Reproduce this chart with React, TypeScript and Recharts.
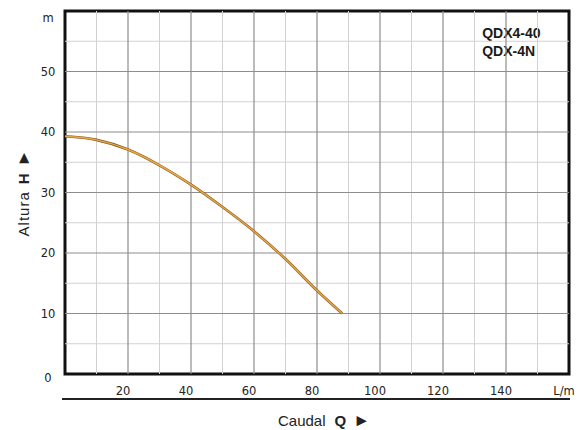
import React from 'react';
import { LineChart, Line, XAxis, YAxis, ReferenceLine, ReferenceArea, Label } from 'recharts';

// Pump curve QDX4-40 / QDX-4N (flow L/min vs head m)
const flowQ = [0, 10, 20, 30, 40, 50, 60, 70, 80, 88];
const headH = [39.3, 38.7, 37.1, 34.5, 31.3, 27.6, 23.6, 19.0, 13.8, 10.0];

const xTicks = [20, 40, 60, 80, 100, 120, 140, 160];
const xTickLabels = ['20', '40', '60', '80', '100', '120', '140', 'L/m'];
const yTicks = [0, 10, 20, 30, 40, 50, 60];
const yTickLabels = ['0', '10', '20', '30', '40', '50', 'm'];

const xMajor = [20, 40, 60, 80, 100, 120, 140];
const xMinor = [10, 30, 50, 70, 90, 110, 130, 150];
const yMajor = [10, 20, 30, 40, 50];
const yMinor = [5, 15, 25, 35, 45, 55];

const models = ['QDX4-40', 'QDX-4N'];

const data = flowQ.map((q, i) => ({ q, h: headH[i] }));

const TICK_FONT = 'DejaVu Sans, sans-serif';
const LABEL_FONT = 'Liberation Sans, Arial, sans-serif';

const XTick = (props: any) => {
  const { x, y, payload } = props;
  const idx = xTicks.indexOf(payload.value);
  return (
    <text x={x - 5} y={y + 5} dy="0.71em" textAnchor="middle" fontFamily={TICK_FONT} fontSize={11.5} fill="#222">
      {xTickLabels[idx]}
    </text>
  );
};

const YTick = (props: any) => {
  const { x, y, payload } = props;
  const idx = yTicks.indexOf(payload.value);
  const extra = payload.value === 0 ? 4 : payload.value === 60 ? 7 : 0;
  return (
    <text x={x - 9} y={y + extra} dy="0.35em" textAnchor="middle" fontFamily={TICK_FONT} fontSize={11.5} fill="#222">
      {yTickLabels[idx]}
    </text>
  );
};

const XAxisTitle = (props: any) => {
  const vb = props.viewBox;
  const lineY = vb.y + 25;
  return (
    <g>
      <line x1={vb.x - 3} x2={vb.x + vb.width + 1} y1={lineY} y2={lineY} stroke="#222" strokeWidth={2} />
      <text x={vb.x + vb.width / 2 + 7} y={vb.y + 52} textAnchor="middle" fontFamily={LABEL_FONT} fontSize={15} fill="#222">
        <tspan>Caudal</tspan>
        <tspan dx={9} fontWeight="bold">Q</tspan>
        <tspan dx={7} fontSize={17}>►</tspan>
      </text>
    </g>
  );
};

const YAxisTitle = (props: any) => {
  const vb = props.viewBox;
  const cx = vb.x + 29;
  const cy = 193;
  return (
    <text
      x={cx}
      y={cy}
      transform={`rotate(-90 ${cx} ${cy})`}
      textAnchor="middle"
      fontFamily={LABEL_FONT}
      fontSize={15}
      fill="#222"
    >
      <tspan letterSpacing={1}>Altura</tspan>
      <tspan dx={7} fontWeight="bold">H</tspan>
      <tspan dx={7} fontSize={17}>►</tspan>
    </text>
  );
};

const ModelsLabel = (props: any) => {
  const vb = props.viewBox;
  return (
    <g>
      {models.map((m, i) => (
        <text
          key={m}
          x={vb.x + 14}
          y={vb.y + 21 + i * 18}
          fontFamily={LABEL_FONT}
          fontWeight="bold"
          fontSize={14}
          fill="#1a1a1a"
        >
          {m}
        </text>
      ))}
    </g>
  );
};

export default function App() {
  return (
    <div style={{ position: 'absolute', left: 0, top: 0, width: 585, height: 430, background: '#fff' }}>
      <LineChart width={585} height={430} data={data} margin={{ top: 11, right: 16, left: 0, bottom: 26 }}>
        <XAxis
          type="number"
          dataKey="q"
          domain={[0, 160]}
          ticks={xTicks}
          axisLine={false}
          tickLine={false}
          tick={<XTick />}
          height={30}
          interval={0}
          allowDataOverflow
        >
          <Label content={<XAxisTitle />} />
        </XAxis>
        <YAxis
          type="number"
          domain={[0, 60]}
          ticks={yTicks}
          axisLine={false}
          tickLine={false}
          tick={<YTick />}
          width={65}
          interval={0}
        >
          <Label content={<YAxisTitle />} />
        </YAxis>

        {xMinor.map((v) => (
          <ReferenceLine key={`xm${v}`} x={v} stroke="#d2d2d2" strokeWidth={1} />
        ))}
        {yMinor.map((v) => (
          <ReferenceLine key={`ym${v}`} y={v} stroke="#d2d2d2" strokeWidth={1} />
        ))}
        {xMajor.map((v) => (
          <ReferenceLine key={`xM${v}`} x={v} stroke="#8e8e8e" strokeWidth={1.2} />
        ))}
        {yMajor.map((v) => (
          <ReferenceLine key={`yM${v}`} y={v} stroke="#8e8e8e" strokeWidth={1.2} />
        ))}

        <ReferenceArea x1={128} x2={160} y1={50.5} y2={59} fill="#ffffff" fillOpacity={1} stroke="none">
          <Label content={<ModelsLabel />} />
        </ReferenceArea>

        <Line type="monotone" dataKey="h" stroke="#8a5a22" strokeWidth={2.6} dot={false} isAnimationActive={false} />
        <Line type="monotone" dataKey="h" stroke="#e9a843" strokeWidth={1.5} dot={false} isAnimationActive={false} />

        <ReferenceArea x1={0} x2={160} y1={0} y2={60} fill="none" fillOpacity={0} stroke="#111" strokeWidth={3} ifOverflow="visible" />
      </LineChart>
    </div>
  );
}
